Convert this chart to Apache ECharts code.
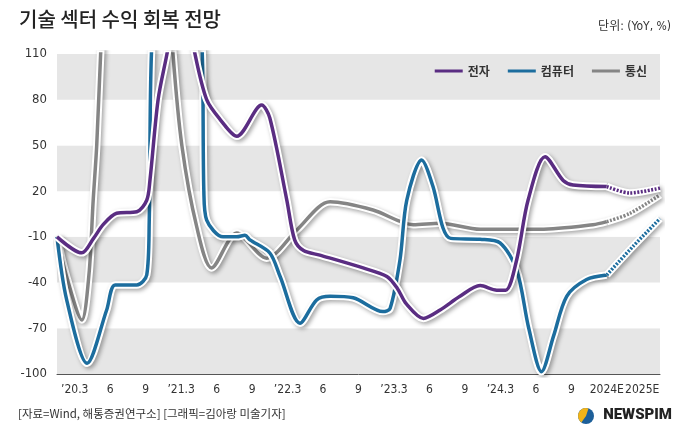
<!DOCTYPE html>
<html>
<head>
<meta charset="utf-8">
<script src="https://cdn.jsdelivr.net/npm/echarts/dist/echarts.min.js"></script>
<style>
  html, body { margin: 0; padding: 0; background: #fff; }
  #chart { width: 680px; height: 442px; }
</style>
</head>
<body>
<div id="chart"></div>
<script>
var quarters = ['’20.3', '6', '9', '’21.3', '6', '9', '’22.3', '6', '9', '’23.3', '6', '9', '’24.3', '6', '9', '2024E', '2025E'];
var yTicks = [-100, -70, -40, -10, 20, 50, 80, 110];

// [위치(분기, 왼쪽 끝=0), YoY %]
var elec = [[0, -10], [0.7, -20.5], [1.03, -11], [1.3, -2], [1.68, 5.5], [2.25, 6.5], [2.53, 14], [2.62, 27],
  [2.85, 80], [3.1, 110], [3.5, 160], [3.89, 110], [4.22, 80], [4.6, 67], [5.07, 56], [5.77, 76.5], [6.0, 68],
  [6.48, 14], [6.7, -12], [6.95, -19], [7.41, -22], [8.63, -30.4], [9.3, -36], [9.6, -44], [9.85, -54],
  [10.33, -63.5], [10.8, -58], [11.36, -49], [11.93, -42], [12.4, -45], [12.65, -45], [12.96, -25],
  [13.28, 14], [13.76, 42.6], [14.27, 27], [14.55, 24], [15.5, 23]];
var elecEst = [[15.5, 23], [16.15, 18.8], [17, 22]];

var comp = [[0, -10], [0.27, -51], [0.85, -93], [1.4, -58], [1.64, -41.6], [2.25, -41.6], [2.53, -35],
  [2.6, 0], [2.68, 120], [3.4, 200], [4.08, 120], [4.14, 20], [4.22, 1], [4.68, -10], [5.07, -10], [5.3, -9],
  [5.44, -12], [6.0, -20.6], [6.29, -36], [6.85, -66.7], [7.32, -51.4], [7.7, -49], [8.35, -50], [9.19, -59],
  [9.39, -57], [9.67, -25], [9.86, 14], [10.28, 40.5], [10.6, 23], [10.88, -4], [11.1, -11], [11.93, -11.6],
  [12.49, -14], [12.96, -31.7], [13.3, -70], [13.66, -98.5], [14.0, -75], [14.37, -49], [14.93, -38], [15.5, -35]];
var compEst = [[15.5, -35], [16.25, -16], [17, 2]];

var tele = [[0, -10], [0.27, -36], [0.7, -64.5], [0.9, -35], [1.02, 14], [1.12, 50], [1.23, 110], [1.35, 160],
  [2.3, 230], [3.15, 160], [3.27, 110], [3.52, 50], [3.94, -3.5], [4.36, -30.4], [5.07, -7.5], [5.91, -24],
  [6.76, -5.5], [7.7, 13], [8.91, 7.6], [10.04, -2], [10.8, -1], [11.93, -5], [13.62, -5], [15.11, -2], [15.5, 0]];
var teleEst = [[15.5, 0], [16.15, 5.4], [17, 17.5]];

var kr = "'Noto Sans CJK KR', sans-serif";
var narrow = "'Liberation Sans Narrow', 'DejaVu Sans Condensed', 'Noto Sans CJK KR', sans-serif";

// 흰 테두리 + 그림자 위에 색 선
function makeLine(name, data, color, dashed) {
  return [{
    name: name + '_bg',
    type: 'line',
    xAxisIndex: 1,
    data: data,
    smooth: 0.3,
    showSymbol: false,
    silent: true,
    lineStyle: {
      color: '#fff', width: 7.5,
      shadowColor: 'rgba(0,0,0,0.35)', shadowBlur: 4, shadowOffsetX: 2, shadowOffsetY: 2
    }
  }, {
    name: dashed ? name + '_est' : name,
    type: 'line',
    xAxisIndex: 1,
    data: data,
    smooth: 0.3,
    showSymbol: false,
    itemStyle: { color: color },
    lineStyle: { color: color, width: 3.5, type: dashed ? [2, 1.5] : 'solid' }
  }];
}

var chart = echarts.init(document.getElementById('chart'));

var series = [].concat(
  makeLine('통신', tele, '#858585', false),
  makeLine('통신', teleEst, '#858585', true),
  makeLine('컴퓨터', comp, '#1c6d9e', false),
  makeLine('컴퓨터', compEst, '#1c6d9e', true),
  makeLine('전자', elec, '#5a2d82', false),
  makeLine('전자', elecEst, '#5a2d82', true)
);

var option = {
  animation: false,
  grid: { left: 57, right: 20, top: 54, bottom: 68 },
  legend: {
    data: [{ name: '전자', icon: 'rect' }, { name: '컴퓨터', icon: 'rect' }, { name: '통신', icon: 'rect' }],
    right: 28,
    top: 60,
    itemWidth: 28,
    itemHeight: 3,
    itemGap: 18,
    textStyle: { fontFamily: kr, fontSize: 12, fontWeight: 'bold', color: '#333' }
  },
  xAxis: [{
    type: 'category',
    data: quarters,
    boundaryGap: true,
    axisLine: { onZero: false, lineStyle: { color: '#555', width: 1 } },
    axisTick: { inside: true, length: 5, lineStyle: { color: '#555' } },
    axisLabel: { interval: 0, color: '#333', fontSize: 12, margin: 10, fontFamily: narrow },
    splitLine: { show: false }
  }, {
    type: 'value',
    min: 0,
    max: 17,
    show: false
  }],
  yAxis: {
    type: 'value',
    min: yTicks[0],
    max: yTicks[yTicks.length - 1],
    interval: 30,
    axisLine: { show: false },
    axisTick: { show: false },
    splitLine: { show: false },
    splitArea: { show: true, areaStyle: { color: ['#e6e6e6', '#ffffff'] } },
    axisLabel: { color: '#333', fontSize: 13, margin: 10, fontFamily: narrow }
  },
  graphic: [
    { type: 'text', left: 19, top: 9, style: { text: '기술 섹터 수익 회복 전망', fontFamily: kr, fontSize: 20, fontWeight: 500, fill: '#222' } },
    { type: 'text', right: 9, top: 21, style: { text: '단위: (YoY, %)', fontFamily: narrow, fontSize: 12, fill: '#333' } },
    { type: 'text', right: 24, top: 112, style: { text: '기술  섹터  지배주주  귀속  순이익  증가율', fontFamily: kr, fontSize: 15, fill: '#6a6a6a' } },
    { type: 'text', left: 18, top: 408, style: { text: '[자료=Wind, 해통증권연구소] [그래픽=김아랑 미술기자]', fontFamily: kr, fontSize: 11.5, fill: '#333' } },
    { type: 'circle', left: 578, top: 408, shape: { r: 8 }, style: { fill: '#1d5f99' } },
    { type: 'sector', left: 578, top: 408, shape: { cx: 8, cy: 8, r: 8, startAngle: Math.PI * 0.7, endAngle: Math.PI * 1.6 }, style: { fill: '#f2b418' } },
    { type: 'text', right: 8, top: 408, style: { text: 'NEWSPIM', fontFamily: 'Roboto, sans-serif', fontSize: 15, fontWeight: 900, fill: '#222' } }
  ],
  series: series
};

chart.setOption(option);
</script>
</body>
</html>
